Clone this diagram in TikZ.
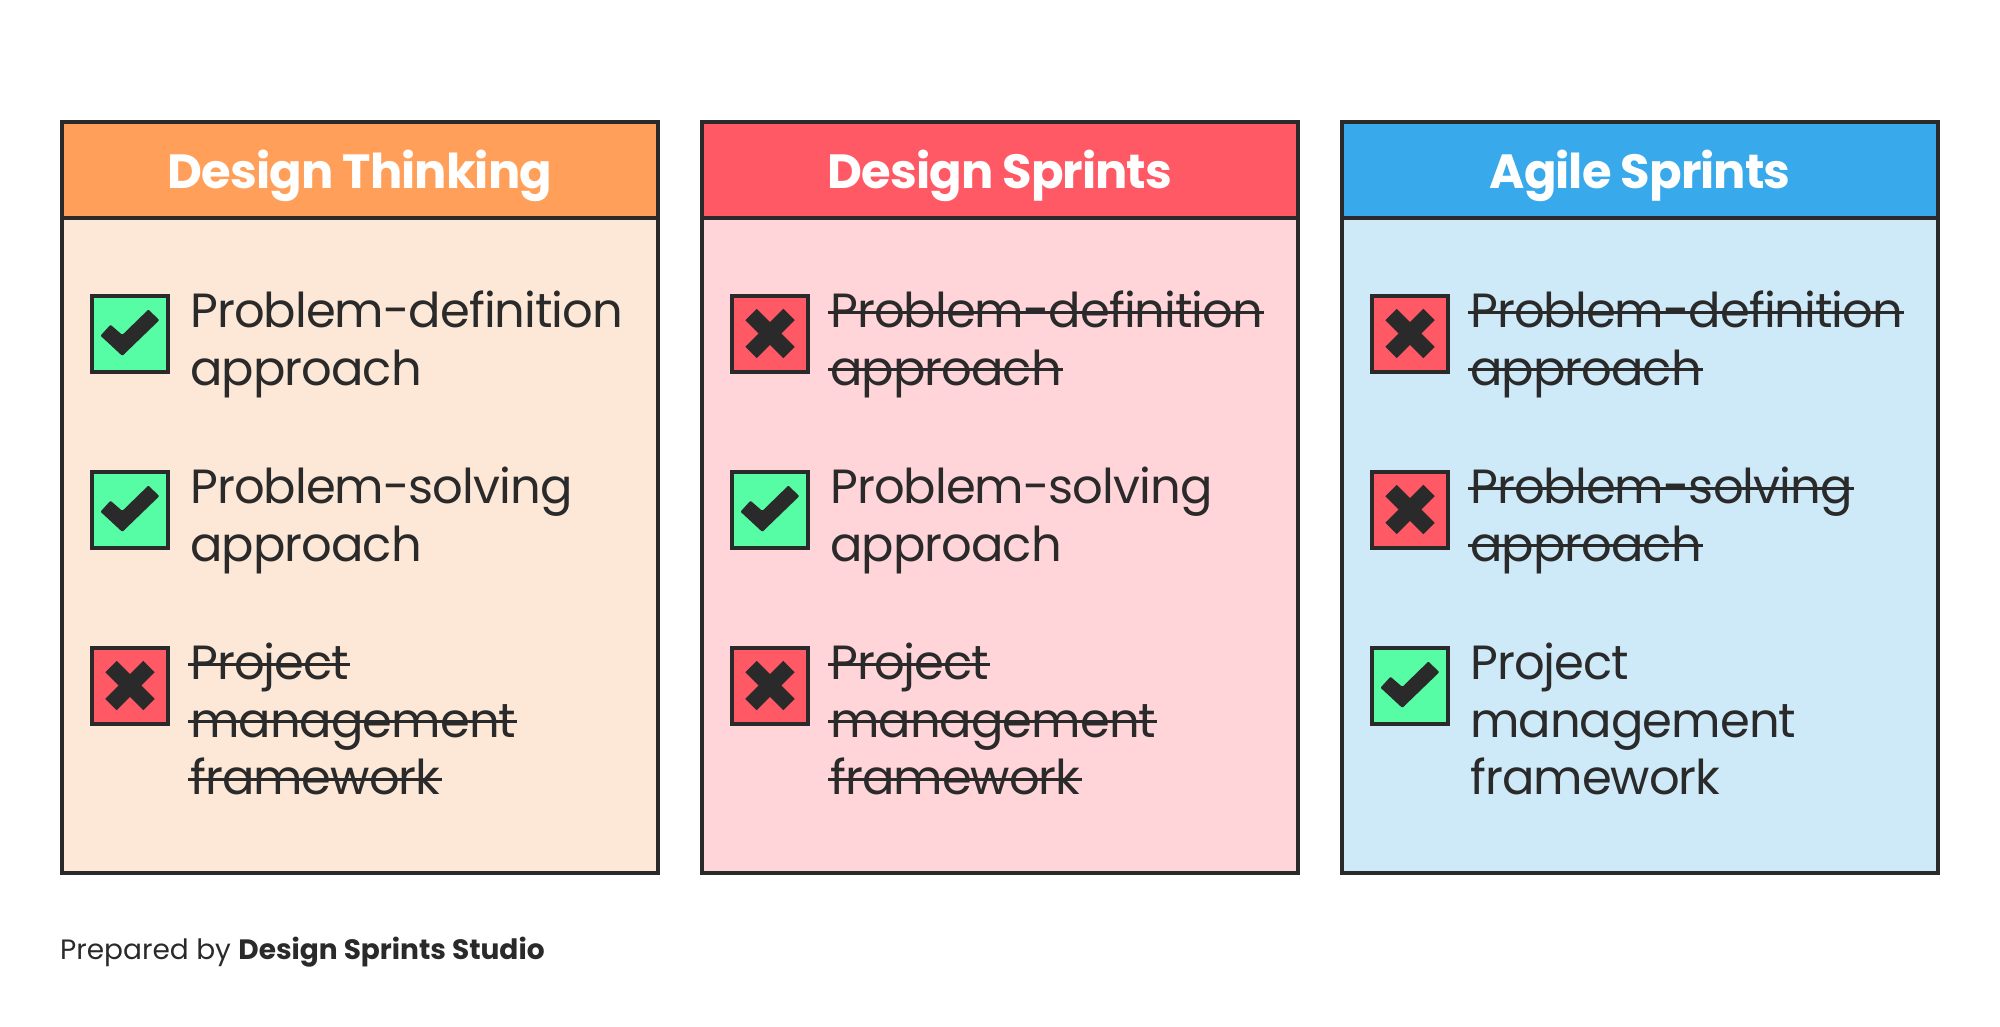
\documentclass[tikz,border=0pt]{standalone}
\usepackage{fontspec}
\setmainfont{Poppins}
\newfontfamily\tightfont[LetterSpace=-2]{Poppins}
\definecolor{ink}{HTML}{2A2A2A}
\definecolor{orangeHead}{HTML}{FF9F59}
\definecolor{orangeBody}{HTML}{FDE8D8}
\definecolor{redHead}{HTML}{FF5965}
\definecolor{redBody}{HTML}{FFD5DA}
\definecolor{blueHead}{HTML}{38A9EA}
\definecolor{blueBody}{HTML}{CEE9F8}
\definecolor{okGreen}{HTML}{56FDA4}
\newcommand\strk[1]{\setbox0=\hbox{#1}\rlap{\kern-2pt\raisebox{14pt}{\color{ink}\rule{\dimexpr\wd0+3pt\relax}{3pt}}}\box0}
\tikzset{
 x=1pt,y=-1pt,
 cardbody/.style={draw=ink,line width=4pt,rectangle,inner sep=0pt,outer sep=0pt,minimum width=596pt,minimum height=751pt,anchor=north west},
 cardhead/.style={draw=ink,line width=4pt,rectangle,inner sep=0pt,outer sep=0pt,minimum width=596pt,minimum height=96pt,anchor=north west},
 headtext/.style={text=white,font=\fontsize{48}{58}\tightfont\bfseries,inner sep=0pt,anchor=base},
 linetext/.style={text=ink,font=\fontsize{48}{58}\tightfont,inner sep=0pt,anchor=base west},
 markbox/.style={draw=ink,line width=4pt,rectangle,inner sep=0pt,outer sep=0pt,minimum size=76pt,anchor=center},
 foot/.style={text=ink,font=\fontsize{28}{34}\selectfont,inner sep=0pt,anchor=base west},
}
% \cardbox{id}{left}{head colour}{body colour}{title}
\newcommand\cardbox[5]{%
 \node[cardbody,fill=#4] (#1body) at (#2+2,122) {};
 \node[cardhead,fill=#3] (#1head) at (#2+2,122) {};
 \node[headtext] (#1title) at (#2+300,188) {#5};
}
\newcommand\yesmark[3]{%
 \node[markbox,fill=okGreen] (#1) at (#2,#3) {};
 \fill[ink,rounded corners=1pt] ([shift={(-19.5,-8.8)}]#1.center) -- ([shift={(-7.7,1.4)}]#1.center) -- ([shift={(18.4,-24)}]#1.center) -- ([shift={(29.3,-13.3)}]#1.center) -- ([shift={(-7.7,22.4)}]#1.center) -- ([shift={(-29.5,2.2)}]#1.center) -- cycle;
}
\newcommand\nomark[3]{%
 \node[markbox,fill=redHead] (#1) at (#2,#3) {};
 \draw[ink,line width=16pt] ([shift={(-19,-19)}]#1.center) -- ([shift={(19,19)}]#1.center);
 \draw[ink,line width=16pt] ([shift={(19,-19)}]#1.center) -- ([shift={(-19,19)}]#1.center);
}
\begin{document}
\begin{tikzpicture}
\useasboundingbox (0,0) rectangle (2000,1026);
\fill[white] (0,0) rectangle (2000,1026);
\cardbox{a}{60}{orangeHead}{orangeBody}{Design Thinking}
\cardbox{b}{700}{redHead}{redBody}{Design Sprints}
\cardbox{c}{1340}{blueHead}{blueBody}{Agile Sprints}
% Card A
\yesmark{a1}{130}{333.5}
\node[linetext] (a1l1) at (190,327.5) {Problem-definition};
\node[linetext] (a1l2) at (190,385.1) {approach};
\yesmark{a2}{130}{509.5}
\node[linetext] (a2l1) at (190,503.5) {Problem-solving};
\node[linetext] (a2l2) at (190,561.1) {approach};
\nomark{a3}{130}{685.5}
\node[linetext] (a3l1) at (190,679.5) {\strk{Project}};
\node[linetext] (a3l2) at (190,737.1) {\strk{management}};
\node[linetext] (a3l3) at (190,794.7) {\strk{framework}};
% Card B
\nomark{b1}{770}{333.5}
\node[linetext] (b1l1) at (830,327.5) {\strk{Problem-definition}};
\node[linetext] (b1l2) at (830,385.1) {\strk{approach}};
\yesmark{b2}{770}{509.5}
\node[linetext] (b2l1) at (830,503.5) {Problem-solving};
\node[linetext] (b2l2) at (830,561.1) {approach};
\nomark{b3}{770}{685.5}
\node[linetext] (b3l1) at (830,679.5) {\strk{Project}};
\node[linetext] (b3l2) at (830,737.1) {\strk{management}};
\node[linetext] (b3l3) at (830,794.7) {\strk{framework}};
% Card C
\nomark{c1}{1410}{333.5}
\node[linetext] (c1l1) at (1470,327.5) {\strk{Problem-definition}};
\node[linetext] (c1l2) at (1470,385.1) {\strk{approach}};
\nomark{c2}{1410}{509.5}
\node[linetext] (c2l1) at (1470,503.5) {\strk{Problem-solving}};
\node[linetext] (c2l2) at (1470,561.1) {\strk{approach}};
\yesmark{c3}{1410}{685.5}
\node[linetext] (c3l1) at (1470,679.5) {Project};
\node[linetext] (c3l2) at (1470,737.1) {management};
\node[linetext] (c3l3) at (1470,794.7) {framework};
% Footer
\node[foot] (credit) at (60,959) {Prepared by \textbf{Design Sprints Studio}};
\end{tikzpicture}
\end{document}
